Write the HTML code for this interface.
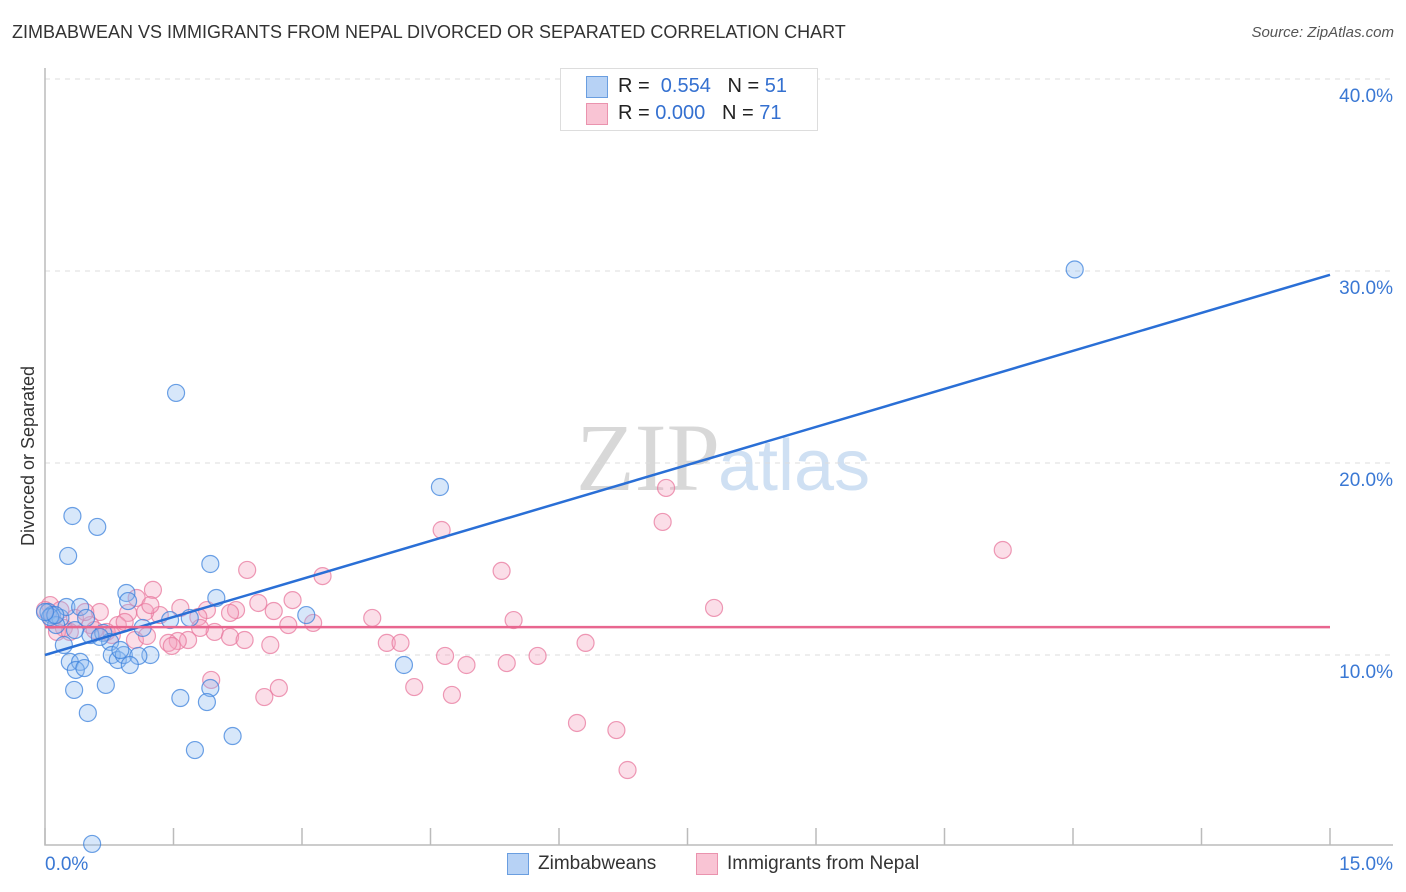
<!DOCTYPE html>
<html><head><meta charset="utf-8">
<style>
body{margin:0;background:#fff;font-family:"Liberation Sans",sans-serif;}
#wrap{position:relative;width:1406px;height:892px;overflow:hidden;}
.t{position:absolute;white-space:nowrap;}
</style></head>
<body>
<div id="wrap">
<div class="t" style="left:12px;top:22px;font-size:18px;color:#333;">ZIMBABWEAN VS IMMIGRANTS FROM NEPAL DIVORCED OR SEPARATED CORRELATION CHART</div>
<div class="t" style="right:12px;top:24px;font-size:15px;color:#555;font-style:italic;">Source: ZipAtlas.com</div>
<svg id="chart" width="1406" height="892" style="position:absolute;left:0;top:0">
<text x="720" y="490" font-family="Liberation Serif,serif" font-size="96" fill="#d8d8d8" text-anchor="end">ZIP</text>
<text x="718" y="490" font-family="Liberation Sans,sans-serif" font-size="72" fill="#cfe0f3">atlas</text>
<g id="grid"></g><g id="axes"></g><g id="pts"></g><g id="lines"></g>
<text x="34" y="456" transform="rotate(-90 34 456)" font-size="18" fill="#333" text-anchor="middle">Divorced or Separated</text>
</svg>
<div class="t" style="left:560px;top:68px;width:256px;height:61px;border:1px solid #ddd;background:#fff;">
 <div style="position:absolute;left:25px;top:7px;width:20px;height:20px;background:#b7d2f5;border:1px solid #6a9ee0;"></div>
 <div class="t" style="left:57px;top:6px;font-size:20px;color:#222;">R = &nbsp;<span style="color:#3470d0">0.554</span> &nbsp;&nbsp;N = <span style="color:#3470d0">51</span></div>
 <div style="position:absolute;left:25px;top:34px;width:20px;height:20px;background:#f9c4d4;border:1px solid #ea93ae;"></div>
 <div class="t" style="left:57px;top:33px;font-size:20px;color:#222;">R = <span style="color:#3470d0">0.000</span> &nbsp;&nbsp;N = <span style="color:#3470d0">71</span></div>
</div>
<div style="position:absolute;left:507px;top:853px;width:20px;height:20px;background:#b7d2f5;border:1px solid #6a9ee0;"></div>
<div class="t" style="left:538px;top:853px;font-size:19px;color:#333;">Zimbabweans</div>
<div style="position:absolute;left:696px;top:853px;width:20px;height:20px;background:#f9c4d4;border:1px solid #ea93ae;"></div>
<div class="t" style="left:727px;top:853px;font-size:19px;color:#333;">Immigrants from Nepal</div>
</div>
<script>
const yTicks=[10,20,30,40];
const yTickLabels=["10.0%","20.0%","30.0%","40.0%"];
const xTickLabels=["0.0%","15.0%"];
const blueX=[1.53,4.61,12.02,0.32,0.61,0.27,1.93,0.95,2.00,0.97,0.04,0.08,0.18,0.25,0.41,0.48,0.13,3.05,1.14,0.53,0.68,0.76,0.22,1.23,0.78,0.85,0.92,1.09,0.29,0.41,0.36,0.46,0.99,4.19,0.71,0.34,1.93,1.58,1.89,0.50,2.19,1.75,0.55,0.06,0.12,0.64,1.46,1.69,0.35,0.88,0.0];
const blueY=[23.65,18.75,30.08,17.24,16.67,15.16,14.74,13.23,12.97,12.81,12.24,12.08,11.93,12.50,12.50,11.93,11.56,12.08,11.41,11.04,11.15,10.68,10.52,10.0,10.0,9.74,10.0,9.95,9.64,9.64,9.22,9.32,9.48,9.48,8.44,8.18,8.28,7.76,7.55,6.98,5.78,5.05,0.16,11.98,12.08,10.94,11.82,11.93,11.30,10.26,12.24];
const pinkX=[7.25,7.21,11.18,4.63,5.33,2.36,3.24,1.26,1.07,7.81,2.89,2.49,1.58,1.89,2.23,2.67,3.82,5.47,3.13,1.34,0.97,0.64,1.79,0.85,0.53,0.22,0.06,0.08,0.35,1.98,2.16,1.67,1.55,1.44,2.33,2.63,3.99,4.15,6.31,1.05,1.19,0.72,4.67,4.92,5.39,5.75,1.94,2.73,2.56,4.31,4.75,6.21,6.67,6.80,1.48,0.18,0.0,0.47,0.58,0.78,1.17,0.93,0.14,0.29,2.16,1.23,2.84,1.81];
const pinkY=[18.70,16.93,15.47,16.51,14.38,14.43,14.11,13.39,12.97,12.45,12.86,12.71,12.45,12.34,12.34,12.29,11.93,11.82,11.67,12.08,12.19,12.24,11.98,11.56,11.56,11.41,12.60,11.82,11.93,11.20,10.94,10.78,10.73,10.63,10.78,10.52,10.63,10.63,10.63,10.78,10.99,11.20,9.95,9.48,9.58,9.95,8.70,8.28,7.81,8.33,7.92,6.46,6.09,4.01,10.47,12.34,12.34,12.24,11.30,11.04,12.24,11.72,11.20,11.20,12.19,12.60,11.56,11.41];
const blueTrend=[10.0,29.8];
const pinkTrend=[11.45,11.45];
const NS="http://www.w3.org/2000/svg";
const X=v=>45+v/15*1285;
const Y=v=>847-v*19.2;
function mk(tag,attrs,parent){const e=document.createElementNS(NS,tag);for(const k in attrs)e.setAttribute(k,attrs[k]);parent.appendChild(e);return e;}
const grid=document.getElementById('grid'),axes=document.getElementById('axes'),pts=document.getElementById('pts'),lines=document.getElementById('lines');
yTicks.forEach((t,i)=>{
 const l=mk('line',{x1:45,x2:1393,y1:Y(t),y2:Y(t),stroke:'#dcdcdc','stroke-dasharray':'5,5'},grid);
 
 
 const tx=mk('text',{x:1393,y:Y(t)+23,'text-anchor':'end','font-size':19,fill:'#3a78d4'},axes);
 tx.textContent=yTickLabels[i];
 
 
});
const ax=mk('path',{d:'M45 68 V845 H1393',fill:'none',stroke:'#bbb','stroke-width':1.5},axes);


for(let i=0;i<=10;i++){
 const tk=mk('line',{x1:X(i*1.5),x2:X(i*1.5),y1:828,y2:845,stroke:'#bbb','stroke-width':1.5},axes);
 
 
}
[[0,'start',45],[15,'end',1393]].forEach((a,i)=>{
 const tx=mk('text',{x:a[2],y:870,'text-anchor':a[1],'font-size':19,fill:'#3a78d4'},axes);
 tx.textContent=xTickLabels[i];
 
 
});
pinkX.forEach((x,i)=>{
 const c=mk('circle',{cx:X(x),cy:Y(pinkY[i]),r:8.5,fill:'rgba(244,160,188,0.35)',stroke:'rgba(232,120,158,0.75)','stroke-width':1.2},pts);
 
 
});
blueX.forEach((x,i)=>{
 const c=mk('circle',{cx:X(x),cy:Y(blueY[i]),r:8.5,fill:'rgba(140,185,240,0.35)',stroke:'rgba(60,130,220,0.75)','stroke-width':1.2},pts);
 
 
});
const bl=mk('line',{x1:X(0),y1:Y(blueTrend[0]),x2:X(15),y2:Y(blueTrend[1]),stroke:'#2a6fd6','stroke-width':2.5},lines);


const pl=mk('line',{x1:X(0),y1:Y(pinkTrend[0]),x2:X(15),y2:Y(pinkTrend[1]),stroke:'#e8668f','stroke-width':2.5},lines);


</script>
</body></html>
